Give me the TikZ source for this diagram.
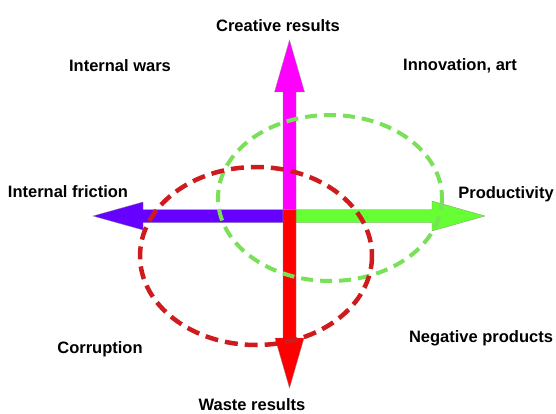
\documentclass[tikz,border=0pt]{standalone}
\usepackage{fontspec}
\setmainfont{Liberation Sans}
\usetikzlibrary{calc}

\definecolor{armpink}{RGB}{255,0,255}
\definecolor{armviolet}{RGB}{102,0,255}
\definecolor{armgreen}{RGB}{102,255,51}
\definecolor{armred}{RGB}{255,0,0}
\definecolor{ringred}{RGB}{206,28,30}
\definecolor{ringgreen}{RGB}{122,224,88}

\tikzset{
  lbl/.style={anchor=base, inner sep=0pt, font=\bfseries\fontsize{16.5}{18}\selectfont},
  arm/.style={draw=black!45, line width=0.3pt}
}

\begin{document}
\begin{tikzpicture}[x=1pt, y=-1pt]
		%%%%% START %%%%%
		\useasboundingbox[fill=white] (0, 0) rectangle (556, 414);
		
		% up arm
		\draw[arm, fill=armpink] (283, 209.5) -- (283, 92) -- (274.5, 92) -- (289.5, 40) -- (304.5, 92) -- (296, 92) -- (296, 209.5) -- cycle;
		
		% left arm
		\draw[arm, fill=armviolet] (283, 209.5) -- (143, 209.5) -- (143, 202) -- (93, 216) -- (143, 230) -- (143, 222.5) -- (283, 222.5) -- cycle;
		
		% right arm
		\draw[arm, fill=armgreen] (296, 209.5) -- (432, 209.5) -- (432, 201) -- (485, 216) -- (432, 231) -- (432, 222.5) -- (296, 222.5) -- cycle;
		
		% down arm
		\draw[arm, fill=armred] (283, 209.5) -- (283, 338) -- (275, 338) -- (289.5, 388) -- (304, 338) -- (296, 338) -- (296, 209.5) -- cycle;
		
		% the two rings
		\draw[line width=4pt, color=ringgreen, dash pattern=on 12pt off 7pt] (330, 198) ellipse (112 and 83);
		\draw[line width=4.5pt, color=ringred, dash pattern=on 13pt off 7pt] (256, 256) ellipse (116 and 89);
		
		% labels
		\node[lbl] (creative) at (278, 32) {Creative results};
		\node[lbl] (waste) at (252, 410) {Waste results};
		\node[lbl] (friction) at (68, 197) {Internal friction};
		\node[lbl] (product) at (506, 198) {Productivity};
		\node[lbl] (wars) at (120, 72) {Internal wars};
		\node[lbl] (innov) at (460, 71) {Innovation, art};
		\node[lbl] (corrupt) at (100, 353) {Corruption};
		\node[lbl] (negative) at (481, 342) {Negative products};
		
		%%%%% END %%%%%
\end{tikzpicture}
\end{document}
